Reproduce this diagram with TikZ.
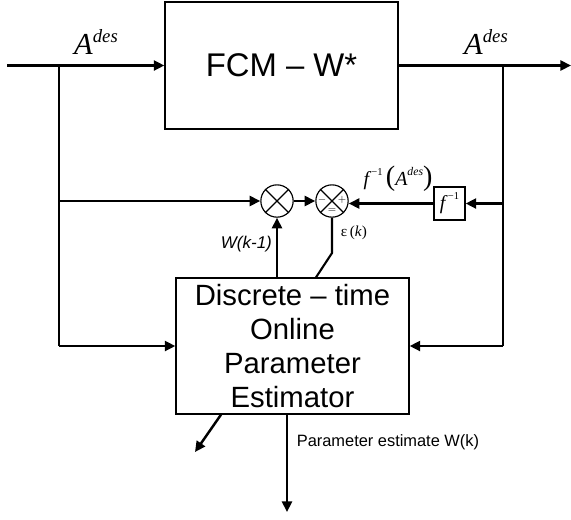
\documentclass[tikz,border=0pt]{standalone}
\usepackage{fontspec}
\setmainfont{Liberation Sans}
\newfontfamily\timesfont{Liberation Serif}
\usetikzlibrary{positioning, arrows.meta, calc}
\tikzset{
  block/.style={rectangle, draw=black, line width=1.1pt, align=center, inner sep=0pt},
  junction/.style={circle, draw=black, line width=1pt, minimum size=0.97cm, inner sep=0pt},
  arrow/.style={line width=2.1pt, -{Triangle[length=9pt,width=8.5pt]}},
  wire/.style={line width=1.1pt},
  siglabel/.style={font=\fontsize{26}{28}\selectfont\timesfont\itshape}
}
\newcommand{\ades}{A\raisebox{0.42em}{\fontsize{16}{16}\selectfont des}}
\newcommand{\finvtxt}{\textit{f}\raisebox{0.5em}{\fontsize{9}{9}\selectfont −1}}
\newcommand{\bigpar}[1]{{\fontsize{24}{24}\selectfont\upshape #1}}

\begin{document}
\begin{tikzpicture}[x=0.03cm, y=-0.03cm]
        \useasboundingbox (0,0) rectangle (571,519);

        \node (fcm) [block, minimum width=6.99cm, minimum height=3.81cm, font=\fontsize{28}{32}\selectfont] at (281.5,65.5) {FCM -- W*};
        \node (est) [block, minimum width=6.99cm, minimum height=4.08cm, font=\fontsize{25}{29}\selectfont] at (292.5,346) {Discrete -- time\\Online\\Parameter\\Estimator};
        \node (mul) [junction] at (277,201) {};
        \node (sum) [junction] at (332,201) {};
        \node (finv) [block, minimum width=0.93cm, minimum height=0.99cm, font=\fontsize{17}{18}\selectfont\timesfont] at (449.5,203.5) {\finvtxt};

        % crosses of the two junctions
        \foreach \j in {mul, sum} {
          \draw [line width=1pt] (\j.north west) -- (\j.south east);
          \draw [line width=1pt] (\j.north east) -- (\j.south west);
        }

        % signs of the summing junction
        \node (sgnl) [font=\fontsize{9}{9}\selectfont, inner sep=0pt] at (322,200) {$-$};
        \node (sgnr) [font=\fontsize{9}{9}\selectfont, inner sep=0pt] at (342,200) {$+$};
        \node (sgnb) [font=\fontsize{9}{9}\selectfont, inner sep=0pt] at (332,211) {$=$};

        \coordinate (in) at (7,65.5);
        \coordinate (out) at (571,65.5);
        \coordinate (brL) at (59,65.5);
        \coordinate (brR) at (503,65.5);
        \coordinate (ek) at (332,253);
        \coordinate (pout) at (287,512);
        \coordinate (aux) at (195,452);

        % main path through the FCM
        \draw [arrow] (in) -- (fcm.west);
        \draw [arrow] (fcm.east) -- (out);
        \node (adesl) [siglabel] at (96,42) {\ades};
        \node (adesr) [siglabel] at (486,42) {\ades};

        % left branch
        \draw [wire] (brL) -- (brL |- est.west);
        \draw [arrow] (brL |- mul.west) -- (mul.west);
        \draw [arrow] (brL |- est.west) -- (est.west);

        % right branch
        \draw [wire] (brR) -- (brR |- est.east);
        \draw [arrow] (brR |- finv.east) -- (finv.east);
        \draw [arrow] (brR |- est.east) -- (est.east);

        % error loop
        \draw [arrow] (finv.west) -- (finv.west -| sum.east);
        \node (finvlab) [font=\fontsize{17}{18}\selectfont\timesfont] at (398,179) {\finvtxt\,\bigpar{(}\textit{A\raisebox{0.5em}{\fontsize{10}{10}\selectfont des}}\bigpar{)}};
        \draw [arrow] (mul.east) -- (sum.west);
        \draw [arrow] (est.north -| mul.south) -- node[left, font=\fontsize{14.5}{16}\selectfont\itshape, pos=0.55] (wlab) {W(k-1)} (mul.south);
        \draw [line width=1.8pt] (sum.south) -- (ek) -- ($(est.north)+(23.5,0)$);
        \node (eklab) [font=\fontsize{13}{14}\selectfont\timesfont] at (354,233) {ε\,(\textit{k})};

        % outputs of the estimator
        \draw [arrow] (est.south -| pout) -- node[right=4pt, pos=0.28, font=\fontsize{14}{16}\selectfont] (wklab) {Parameter estimate W(k)} (pout);
        \draw [arrow] ($(est.south)+(-71.5,0)$) -- (aux);

    \end{tikzpicture}
\end{document}
